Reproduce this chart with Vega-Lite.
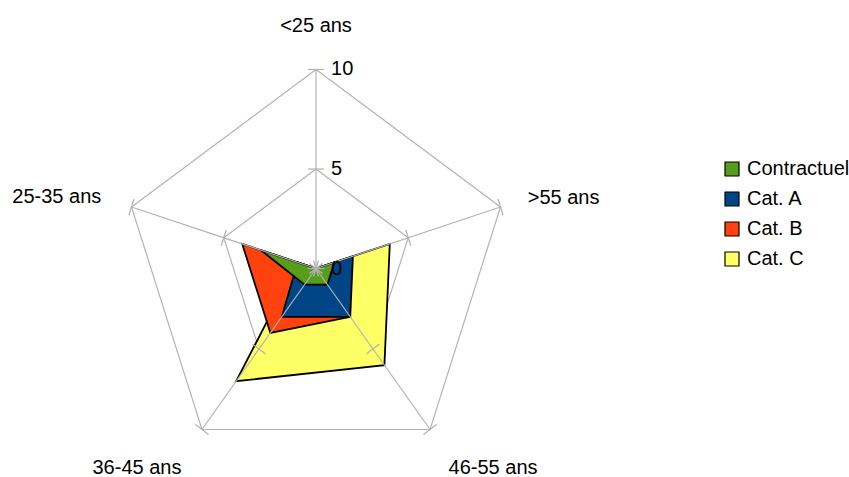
{
  "$schema": "https://vega.github.io/schema/vega-lite/v6.json",
  "width": 849,
  "height": 477,
  "autosize": {"type": "none"},
  "padding": 0,
  "background": "#ffffff",
  "config": {"view": {"stroke": null}, "text": {"font": "Liberation Sans", "fontSize": 20, "color": "#000000"}},
  "datasets": {
    "series": [
      {"serie": "Contractuel", "categorie": "<25 ans", "valeur": 0},
      {"serie": "Contractuel", "categorie": ">55 ans", "valeur": 1},
      {"serie": "Contractuel", "categorie": "46-55 ans", "valeur": 1},
      {"serie": "Contractuel", "categorie": "36-45 ans", "valeur": 1},
      {"serie": "Contractuel", "categorie": "25-35 ans", "valeur": 3},
      {"serie": "Cat. A", "categorie": "<25 ans", "valeur": 0},
      {"serie": "Cat. A", "categorie": ">55 ans", "valeur": 2},
      {"serie": "Cat. A", "categorie": "46-55 ans", "valeur": 3},
      {"serie": "Cat. A", "categorie": "36-45 ans", "valeur": 3},
      {"serie": "Cat. A", "categorie": "25-35 ans", "valeur": 1},
      {"serie": "Cat. B", "categorie": "<25 ans", "valeur": 0},
      {"serie": "Cat. B", "categorie": ">55 ans", "valeur": 1},
      {"serie": "Cat. B", "categorie": "46-55 ans", "valeur": 3},
      {"serie": "Cat. B", "categorie": "36-45 ans", "valeur": 4},
      {"serie": "Cat. B", "categorie": "25-35 ans", "valeur": 4},
      {"serie": "Cat. C", "categorie": "<25 ans", "valeur": 0},
      {"serie": "Cat. C", "categorie": ">55 ans", "valeur": 4},
      {"serie": "Cat. C", "categorie": "46-55 ans", "valeur": 6},
      {"serie": "Cat. C", "categorie": "36-45 ans", "valeur": 7},
      {"serie": "Cat. C", "categorie": "25-35 ans", "valeur": 1}
    ],
    "grille": [
      {"categorie": "<25 ans", "niveau": 0},
      {"categorie": "<25 ans", "niveau": 5},
      {"categorie": "<25 ans", "niveau": 10},
      {"categorie": ">55 ans", "niveau": 0},
      {"categorie": ">55 ans", "niveau": 5},
      {"categorie": ">55 ans", "niveau": 10},
      {"categorie": "46-55 ans", "niveau": 0},
      {"categorie": "46-55 ans", "niveau": 5},
      {"categorie": "46-55 ans", "niveau": 10},
      {"categorie": "36-45 ans", "niveau": 0},
      {"categorie": "36-45 ans", "niveau": 5},
      {"categorie": "36-45 ans", "niveau": 10},
      {"categorie": "25-35 ans", "niveau": 0},
      {"categorie": "25-35 ans", "niveau": 5},
      {"categorie": "25-35 ans", "niveau": 10}
    ]
  },
  "layer": [
    {
      "data": {"name": "grille"},
      "transform": [
        {"filter": "datum.niveau > 0"},
        {"calculate": "indexof(['<25 ans','>55 ans','46-55 ans','36-45 ans','25-35 ans'], datum.categorie)", "as": "idx"},
        {"calculate": "PI/2 - datum.idx*2*PI/5", "as": "ang"},
        {"calculate": "datum.niveau*cos(datum.ang)", "as": "px"},
        {"calculate": "datum.niveau*sin(datum.ang)", "as": "py"}
      ],
      "mark": {"type": "line", "interpolate": "linear-closed", "stroke": "#b3b3b3", "strokeWidth": 1.2},
      "encoding": {
        "x": {"field": "px", "type": "quantitative", "scale": {"domain": [-16.289, 27.474], "nice": false, "zero": false}, "axis": null},
        "y": {"field": "py", "type": "quantitative", "scale": {"domain": [-10.477, 13.492], "nice": false, "zero": false}, "axis": null},
        "order": {"field": "idx", "type": "quantitative"},
        "detail": {"field": "niveau", "type": "nominal"}
      }
    },
    {
      "data": {"name": "series"},
      "transform": [
        {"filter": "datum.serie == 'Cat. C'"},
        {"calculate": "indexof(['<25 ans','>55 ans','46-55 ans','36-45 ans','25-35 ans'], datum.categorie)", "as": "idx"},
        {"calculate": "PI/2 - datum.idx*2*PI/5", "as": "ang"},
        {"calculate": "datum.valeur*cos(datum.ang)", "as": "px"},
        {"calculate": "datum.valeur*sin(datum.ang)", "as": "py"}
      ],
      "mark": {"type": "line", "interpolate": "linear-closed", "stroke": "#000000", "strokeWidth": 1.8},
      "encoding": {
        "x": {"field": "px", "type": "quantitative"},
        "y": {"field": "py", "type": "quantitative"},
        "order": {"field": "idx", "type": "quantitative"},
        "fill": {"field": "serie", "type": "nominal",
          "scale": {"domain": ["Contractuel", "Cat. A", "Cat. B", "Cat. C"], "range": ["#579d1c", "#004586", "#ff420e", "#ffff66"]},
          "legend": {"title": null, "orient": "none", "legendX": 722, "legendY": 159, "symbolType": "square", "symbolSize": 196, "symbolStrokeColor": "#000000", "symbolStrokeWidth": 1.2, "labelFont": "Liberation Sans", "labelFontSize": 20, "labelColor": "#000000", "rowPadding": 10, "labelOffset": 5, "padding": 0}}
      }
    },
    {
      "data": {"name": "series"},
      "transform": [
        {"filter": "datum.serie == 'Cat. B'"},
        {"calculate": "indexof(['<25 ans','>55 ans','46-55 ans','36-45 ans','25-35 ans'], datum.categorie)", "as": "idx"},
        {"calculate": "PI/2 - datum.idx*2*PI/5", "as": "ang"},
        {"calculate": "datum.valeur*cos(datum.ang)", "as": "px"},
        {"calculate": "datum.valeur*sin(datum.ang)", "as": "py"}
      ],
      "mark": {"type": "line", "interpolate": "linear-closed", "stroke": "#000000", "strokeWidth": 1.8},
      "encoding": {
        "x": {"field": "px", "type": "quantitative"},
        "y": {"field": "py", "type": "quantitative"},
        "order": {"field": "idx", "type": "quantitative"},
        "fill": {"field": "serie", "type": "nominal"}
      }
    },
    {
      "data": {"name": "series"},
      "transform": [
        {"filter": "datum.serie == 'Cat. A'"},
        {"calculate": "indexof(['<25 ans','>55 ans','46-55 ans','36-45 ans','25-35 ans'], datum.categorie)", "as": "idx"},
        {"calculate": "PI/2 - datum.idx*2*PI/5", "as": "ang"},
        {"calculate": "datum.valeur*cos(datum.ang)", "as": "px"},
        {"calculate": "datum.valeur*sin(datum.ang)", "as": "py"}
      ],
      "mark": {"type": "line", "interpolate": "linear-closed", "stroke": "#000000", "strokeWidth": 1.8},
      "encoding": {
        "x": {"field": "px", "type": "quantitative"},
        "y": {"field": "py", "type": "quantitative"},
        "order": {"field": "idx", "type": "quantitative"},
        "fill": {"field": "serie", "type": "nominal"}
      }
    },
    {
      "data": {"name": "series"},
      "transform": [
        {"filter": "datum.serie == 'Contractuel'"},
        {"calculate": "indexof(['<25 ans','>55 ans','46-55 ans','36-45 ans','25-35 ans'], datum.categorie)", "as": "idx"},
        {"calculate": "PI/2 - datum.idx*2*PI/5", "as": "ang"},
        {"calculate": "datum.valeur*cos(datum.ang)", "as": "px"},
        {"calculate": "datum.valeur*sin(datum.ang)", "as": "py"}
      ],
      "mark": {"type": "line", "interpolate": "linear-closed", "stroke": "#000000", "strokeWidth": 1.8},
      "encoding": {
        "x": {"field": "px", "type": "quantitative"},
        "y": {"field": "py", "type": "quantitative"},
        "order": {"field": "idx", "type": "quantitative"},
        "fill": {"field": "serie", "type": "nominal"}
      }
    },
    {
      "data": {"name": "grille"},
      "transform": [
        {"filter": "datum.niveau == 10"},
        {"calculate": "indexof(['<25 ans','>55 ans','46-55 ans','36-45 ans','25-35 ans'], datum.categorie)", "as": "idx"},
        {"calculate": "PI/2 - datum.idx*2*PI/5", "as": "ang"},
        {"calculate": "0", "as": "cx"},
        {"calculate": "0", "as": "cy"},
        {"calculate": "datum.niveau*cos(datum.ang)", "as": "px"},
        {"calculate": "datum.niveau*sin(datum.ang)", "as": "py"}
      ],
      "mark": {"type": "rule", "stroke": "#b3b3b3", "strokeWidth": 1.2},
      "encoding": {
        "x": {"field": "cx", "type": "quantitative"},
        "y": {"field": "cy", "type": "quantitative"},
        "x2": {"field": "px"},
        "y2": {"field": "py"}
      }
    },
    {
      "data": {"name": "grille"},
      "transform": [
        {"calculate": "indexof(['<25 ans','>55 ans','46-55 ans','36-45 ans','25-35 ans'], datum.categorie)", "as": "idx"},
        {"calculate": "PI/2 - datum.idx*2*PI/5", "as": "ang"},
        {"calculate": "datum.niveau*cos(datum.ang) - 0.42*sin(datum.ang)", "as": "ax"},
        {"calculate": "datum.niveau*sin(datum.ang) + 0.42*cos(datum.ang)", "as": "ay"},
        {"calculate": "datum.niveau*cos(datum.ang) + 0.42*sin(datum.ang)", "as": "bx"},
        {"calculate": "datum.niveau*sin(datum.ang) - 0.42*cos(datum.ang)", "as": "by"}
      ],
      "mark": {"type": "rule", "stroke": "#b3b3b3", "strokeWidth": 1.2},
      "encoding": {
        "x": {"field": "ax", "type": "quantitative"},
        "y": {"field": "ay", "type": "quantitative"},
        "x2": {"field": "bx"},
        "y2": {"field": "by"}
      }
    },
    {
      "data": {"name": "grille"},
      "transform": [
        {"filter": "datum.categorie == '<25 ans'"},
        {"calculate": "0", "as": "px"},
        {"calculate": "datum.niveau", "as": "py"}
      ],
      "mark": {"type": "text", "align": "left", "baseline": "middle", "dx": 15},
      "encoding": {
        "x": {"field": "px", "type": "quantitative"},
        "y": {"field": "py", "type": "quantitative"},
        "text": {"field": "niveau", "type": "quantitative"}
      }
    },
    {
      "data": {"name": "grille"},
      "transform": [
        {"filter": "datum.niveau == 10 && datum.categorie == '<25 ans'"},
        {"calculate": "0", "as": "px"},
        {"calculate": "11.8", "as": "py"}
      ],
      "mark": {"type": "text", "align": "center", "baseline": "alphabetic", "dy": -2},
      "encoding": {
        "x": {"field": "px", "type": "quantitative"},
        "y": {"field": "py", "type": "quantitative"},
        "text": {"field": "categorie", "type": "nominal"}
      }
    },
    {
      "data": {"name": "grille"},
      "transform": [
        {"filter": "datum.niveau == 10 && datum.categorie == '>55 ans'"},
        {"calculate": "11.8*cos(PI/2 - 2*PI/5)", "as": "px"},
        {"calculate": "11.8*sin(PI/2 - 2*PI/5)", "as": "py"}
      ],
      "mark": {"type": "text", "align": "left", "baseline": "middle", "dx": -6, "dy": 2},
      "encoding": {
        "x": {"field": "px", "type": "quantitative"},
        "y": {"field": "py", "type": "quantitative"},
        "text": {"field": "categorie", "type": "nominal"}
      }
    },
    {
      "data": {"name": "grille"},
      "transform": [
        {"filter": "datum.niveau == 10 && datum.categorie == '25-35 ans'"},
        {"calculate": "11.8*cos(PI/2 - 8*PI/5)", "as": "px"},
        {"calculate": "11.8*sin(PI/2 - 8*PI/5)", "as": "py"}
      ],
      "mark": {"type": "text", "align": "right", "baseline": "middle", "dx": 3, "dy": 1},
      "encoding": {
        "x": {"field": "px", "type": "quantitative"},
        "y": {"field": "py", "type": "quantitative"},
        "text": {"field": "categorie", "type": "nominal"}
      }
    },
    {
      "data": {"name": "grille"},
      "transform": [
        {"filter": "datum.niveau == 10 && datum.categorie == '36-45 ans'"},
        {"calculate": "11.8*cos(PI/2 - 6*PI/5)", "as": "px"},
        {"calculate": "11.8*sin(PI/2 - 6*PI/5)", "as": "py"}
      ],
      "mark": {"type": "text", "align": "right", "baseline": "alphabetic", "dx": 0, "dy": 16},
      "encoding": {
        "x": {"field": "px", "type": "quantitative"},
        "y": {"field": "py", "type": "quantitative"},
        "text": {"field": "categorie", "type": "nominal"}
      }
    },
    {
      "data": {"name": "grille"},
      "transform": [
        {"filter": "datum.niveau == 10 && datum.categorie == '46-55 ans'"},
        {"calculate": "11.8*cos(PI/2 - 4*PI/5)", "as": "px"},
        {"calculate": "11.8*sin(PI/2 - 4*PI/5)", "as": "py"}
      ],
      "mark": {"type": "text", "align": "left", "baseline": "alphabetic", "dx": -2, "dy": 16},
      "encoding": {
        "x": {"field": "px", "type": "quantitative"},
        "y": {"field": "py", "type": "quantitative"},
        "text": {"field": "categorie", "type": "nominal"}
      }
    }
  ]
}
